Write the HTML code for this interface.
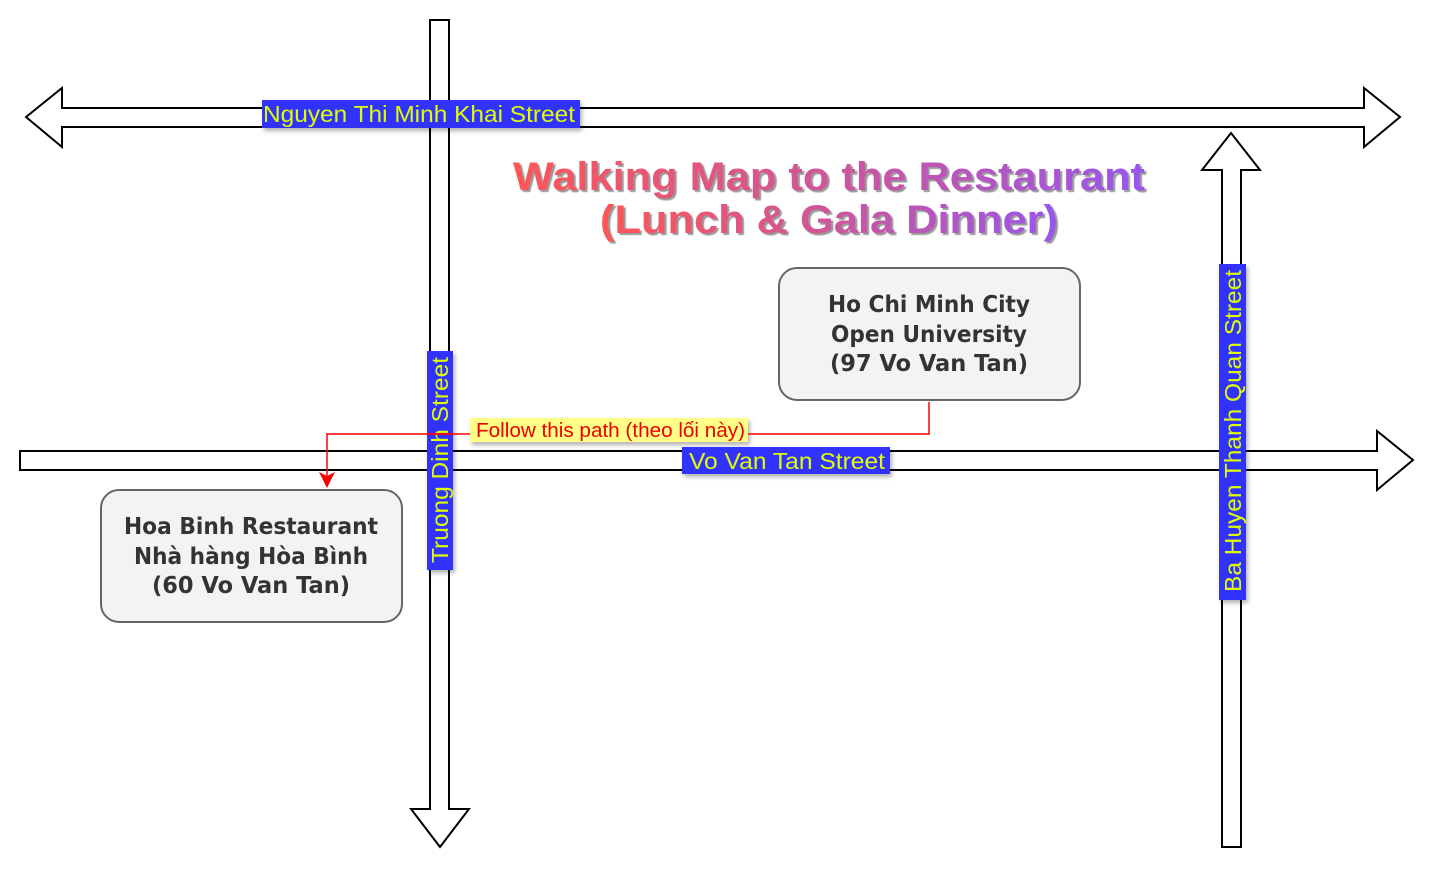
<!DOCTYPE html>
<html><head><meta charset="utf-8"><style>
html,body{margin:0;padding:0;background:#fff;}
svg{display:block;}
</style></head><body>
<svg width="1433" height="869" viewBox="0 0 1433 869" xmlns="http://www.w3.org/2000/svg" font-family="Liberation Sans, sans-serif">
<defs>
<linearGradient id="g" x1="0" x2="1" y1="0" y2="0">
<stop offset="0" stop-color="#ff5555"/><stop offset="0.5" stop-color="#d0559a"/><stop offset="1" stop-color="#9955ee"/>
</linearGradient>
<filter id="sh" x="-10%" y="-10%" width="130%" height="140%"><feDropShadow dx="2" dy="3" stdDeviation="2" flood-color="#000" flood-opacity="0.3"/></filter>
</defs>
<g fill="#fff" stroke="#000" stroke-width="2">
<polygon points="430,20 449,20 449,809 469,809 440,847 411,809 430,809"/>
<polygon points="26,117 62,88 62,108 1364,108 1364,88 1400,117 1364,147 1364,127 62,127 62,147"/>
<polygon points="20,451 1377,451 1377,431 1413,460 1377,490 1377,470 20,470"/>
<polygon points="1222,847 1241,847 1241,170 1260,170 1231,133 1202,170 1222,170"/>
</g>
<g filter="url(#sh)">
<rect x="262" y="100" width="318" height="28" fill="#3333ff"/>
<rect x="427" y="351" width="26" height="219" fill="#3333ff"/>
<rect x="682" y="447" width="208" height="27" fill="#3333ff"/>
<rect x="1219" y="264" width="27" height="336" fill="#3333ff"/>
<rect x="470" y="418" width="278" height="24" fill="#ffff88"/>
</g>
<g fill="#ddff00" font-size="23" lengthAdjust="spacingAndGlyphs">
<text x="263" y="122" textLength="312" lengthAdjust="spacingAndGlyphs">Nguyen Thi Minh Khai Street</text>
<text x="689" y="469" textLength="196" lengthAdjust="spacingAndGlyphs">Vo Van Tan Street</text>
<text transform="translate(448,563) rotate(-90)" textLength="206" lengthAdjust="spacingAndGlyphs">Truong Dinh Street</text>
<text transform="translate(1241,592) rotate(-90)" textLength="322" lengthAdjust="spacingAndGlyphs">Ba Huyen Thanh Quan Street</text>
</g>
<path d="M929,402 V434 H748 M470,434 H327 V478" fill="none" stroke="#ff0000" stroke-width="1.5"/>
<path d="M452,434 H427" stroke="#ff0000" stroke-width="1.5"/>
<polygon points="319,472 327,488 335,472 327,476" fill="#ff0000"/>
<text x="476" y="437" fill="#ee0000" font-size="20" textLength="269" lengthAdjust="spacingAndGlyphs">Follow this path (theo lối này)</text>
<rect x="779" y="268" width="301" height="132" rx="18" fill="#f3f3f3" stroke="#666" stroke-width="2"/>
<rect x="101" y="490" width="301" height="132" rx="18" fill="#f3f3f3" stroke="#666" stroke-width="2"/>
<g font-family="DejaVu Sans, sans-serif" font-weight="bold" font-size="23" fill="#333" text-anchor="middle">
<text x="929" y="312" textLength="202" lengthAdjust="spacingAndGlyphs">Ho Chi Minh City</text>
<text x="929" y="342" textLength="196" lengthAdjust="spacingAndGlyphs">Open University</text>
<text x="929" y="371" textLength="198" lengthAdjust="spacingAndGlyphs">(97 Vo Van Tan)</text>
<text x="251" y="534" textLength="254" lengthAdjust="spacingAndGlyphs">Hoa Binh Restaurant</text>
<text x="251" y="564" textLength="234" lengthAdjust="spacingAndGlyphs">Nhà hàng Hòa Bình</text>
<text x="251" y="593" textLength="198" lengthAdjust="spacingAndGlyphs">(60 Vo Van Tan)</text>
</g>
<g font-weight="bold" font-size="40" text-anchor="middle" fill="url(#g)" style="text-shadow:2px 2px 1px #999">
<text x="829" y="190" textLength="632" lengthAdjust="spacingAndGlyphs">Walking Map to the Restaurant</text>
<text x="829" y="233" textLength="458" lengthAdjust="spacingAndGlyphs">(Lunch &amp; Gala Dinner)</text>
</g>
</svg>
</body></html>
